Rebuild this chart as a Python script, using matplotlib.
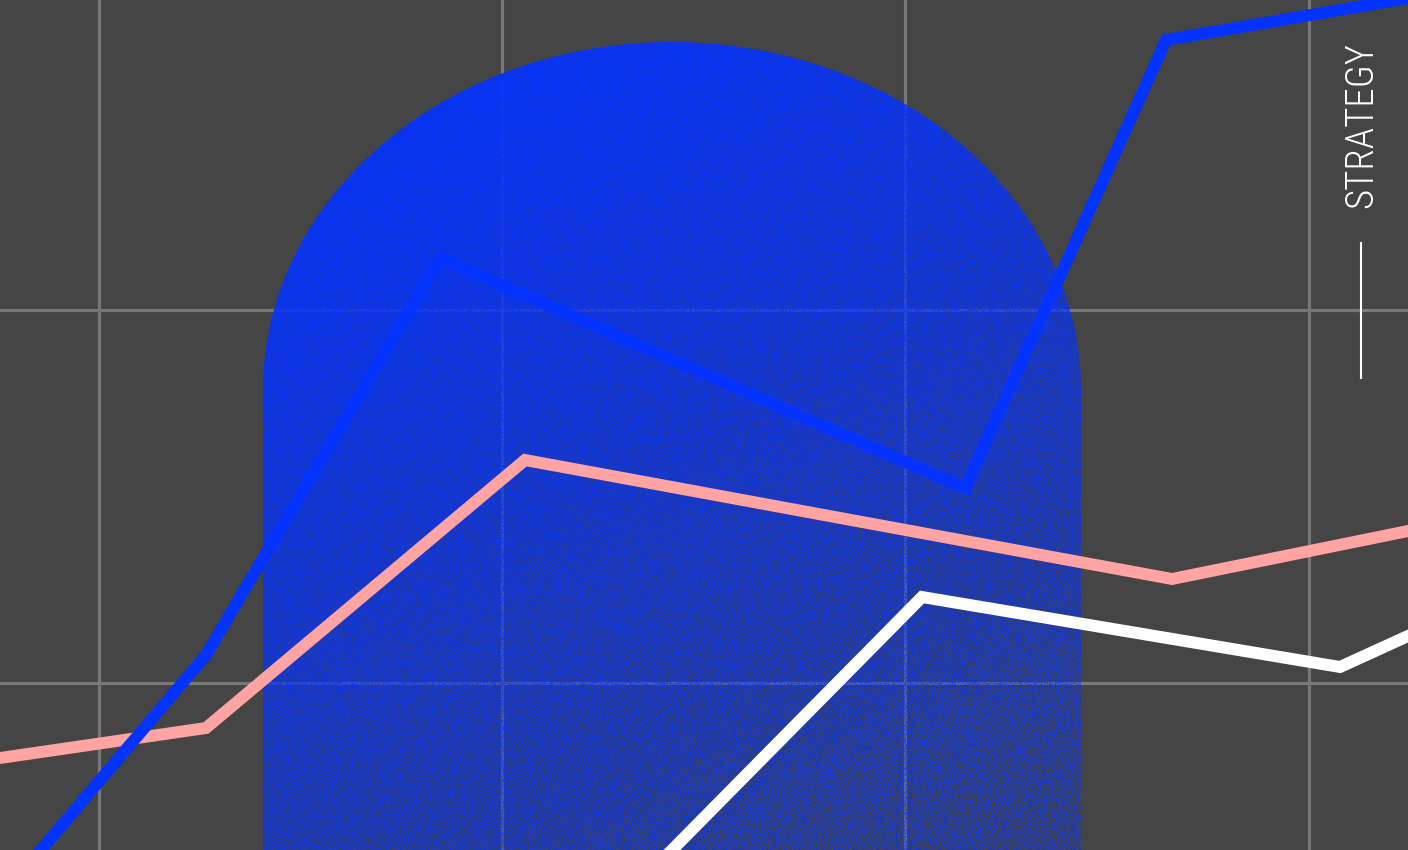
import numpy as np
import matplotlib
matplotlib.use("Agg")
import matplotlib.pyplot as plt
from matplotlib.path import Path
from matplotlib.patches import PathPatch
from matplotlib import font_manager

# ---- data (canvas units: x to the right, y downward) ----
blue_x = [-9, 41, 206, 440, 965, 1166, 1420]
blue_y = [908, 850, 655, 258, 488, 40, -4]

pink_x = [-20, 0, 206, 525, 1172, 1408, 1430]
pink_y = [761, 758, 728, 460, 579, 531, 526]

white_x = [620, 672, 922, 1340, 1408, 1430]
white_y = [900, 850, 597, 667, 636, 626]

grid_x = [99, 502, 905, 1309]
grid_y = [310, 683]

label = "STRATEGY"

# ---- styles ----
BG = "#454545"
GRID = "#787878"
BLUE = "#0433ff"
PINK = "#ffa3a3"
WHITE = "#ffffff"

W, H = 1408, 850
fig = plt.figure(figsize=(W / 100, H / 100), dpi=100)
fig.patch.set_facecolor(BG)
ax = fig.add_axes([0, 0, 1, 1])
ax.set_facecolor(BG)
for s in ax.spines.values():
    s.set_visible(False)
ax.set_xticks(grid_x)
ax.set_yticks(grid_y)
ax.tick_params(length=0, labelbottom=False, labelleft=False)
ax.grid(True, color=GRID, linewidth=2.3, zorder=0)
ax.set_axisbelow(True)

# ---- arch with grainy gradient ----
x0, x1, top, bot = 263, 1081, 42, 850
cx, rx = (x0 + x1) / 2, (x1 - x0) / 2
cy = 390
ry = cy - top
t = np.linspace(np.pi, 0, 240)
ex = cx + rx * np.cos(t)
ey = cy - ry * np.sin(t)
verts = [(x0, bot + 5)] + list(zip(ex, ey)) + [(x1, bot + 5), (x0, bot + 5)]
codes = [Path.MOVETO] + [Path.LINETO] * (len(verts) - 2) + [Path.CLOSEPOLY]
arch = PathPatch(Path(verts, codes), facecolor="none", edgecolor="none")
ax.add_patch(arch)

nx, ny = x1 - x0, bot - top
xx, yy = np.meshgrid(np.arange(nx) + 0.5, np.arange(ny) + 0.5)
s = np.clip((xx * 0.45 + yy * 1.0) / (nx * 0.45 + ny), 0, 1)
p = 1.0 - 0.64 * s ** 1.3
rng = np.random.default_rng(7)
r = rng.random((ny, nx)) * 2 - 1
amp = 0.55 * (1 - p) + 0.05
alpha = np.clip(p + amp * r, 0.05, 1.0)
img = np.zeros((ny, nx, 4))
img[..., 0] = 0x06 / 255
img[..., 1] = 0x33 / 255
img[..., 2] = 0xf8 / 255
img[..., 3] = alpha
im = ax.imshow(img, extent=(x0, x1, bot, top), interpolation="nearest",
               zorder=2, aspect="auto")
im.set_clip_path(arch)
ax.set_xlim(0, W)
ax.set_ylim(H, 0)

# ---- lines ----
lw = 8.6
ax.plot(pink_x, pink_y, color=PINK, lw=lw, solid_joinstyle="miter", zorder=3)
ax.plot(white_x, white_y, color=WHITE, lw=lw, solid_joinstyle="miter", zorder=3)
ax.plot(blue_x, blue_y, color=BLUE, lw=lw, solid_joinstyle="miter", zorder=4)

# ---- label ----
names = {f.name for f in font_manager.fontManager.ttflist}
fam, stretch, weight = "DejaVu Sans", "condensed", "light"
for cand in ["Roboto Condensed", "Liberation Sans Narrow", "Open Sans Condensed"]:
    if cand in names:
        fam, stretch = cand, "normal"
        break
txt = ax.text(1362, 125, label, rotation=90, ha="center", va="center",
              color="white", fontsize=26, family=[fam, "DejaVu Sans"],
              fontstretch=stretch, fontweight=weight, zorder=5)
# fit length to the reference span (~166 px)
renderer = fig.canvas.get_renderer()
ext = txt.get_window_extent(renderer)
txt.set_fontsize(26 * 166 / ext.height)
ax.plot([1361, 1361], [243, 378], color="white", lw=1.5, zorder=5)

fig.savefig("out.png", dpi=100, facecolor=BG)
